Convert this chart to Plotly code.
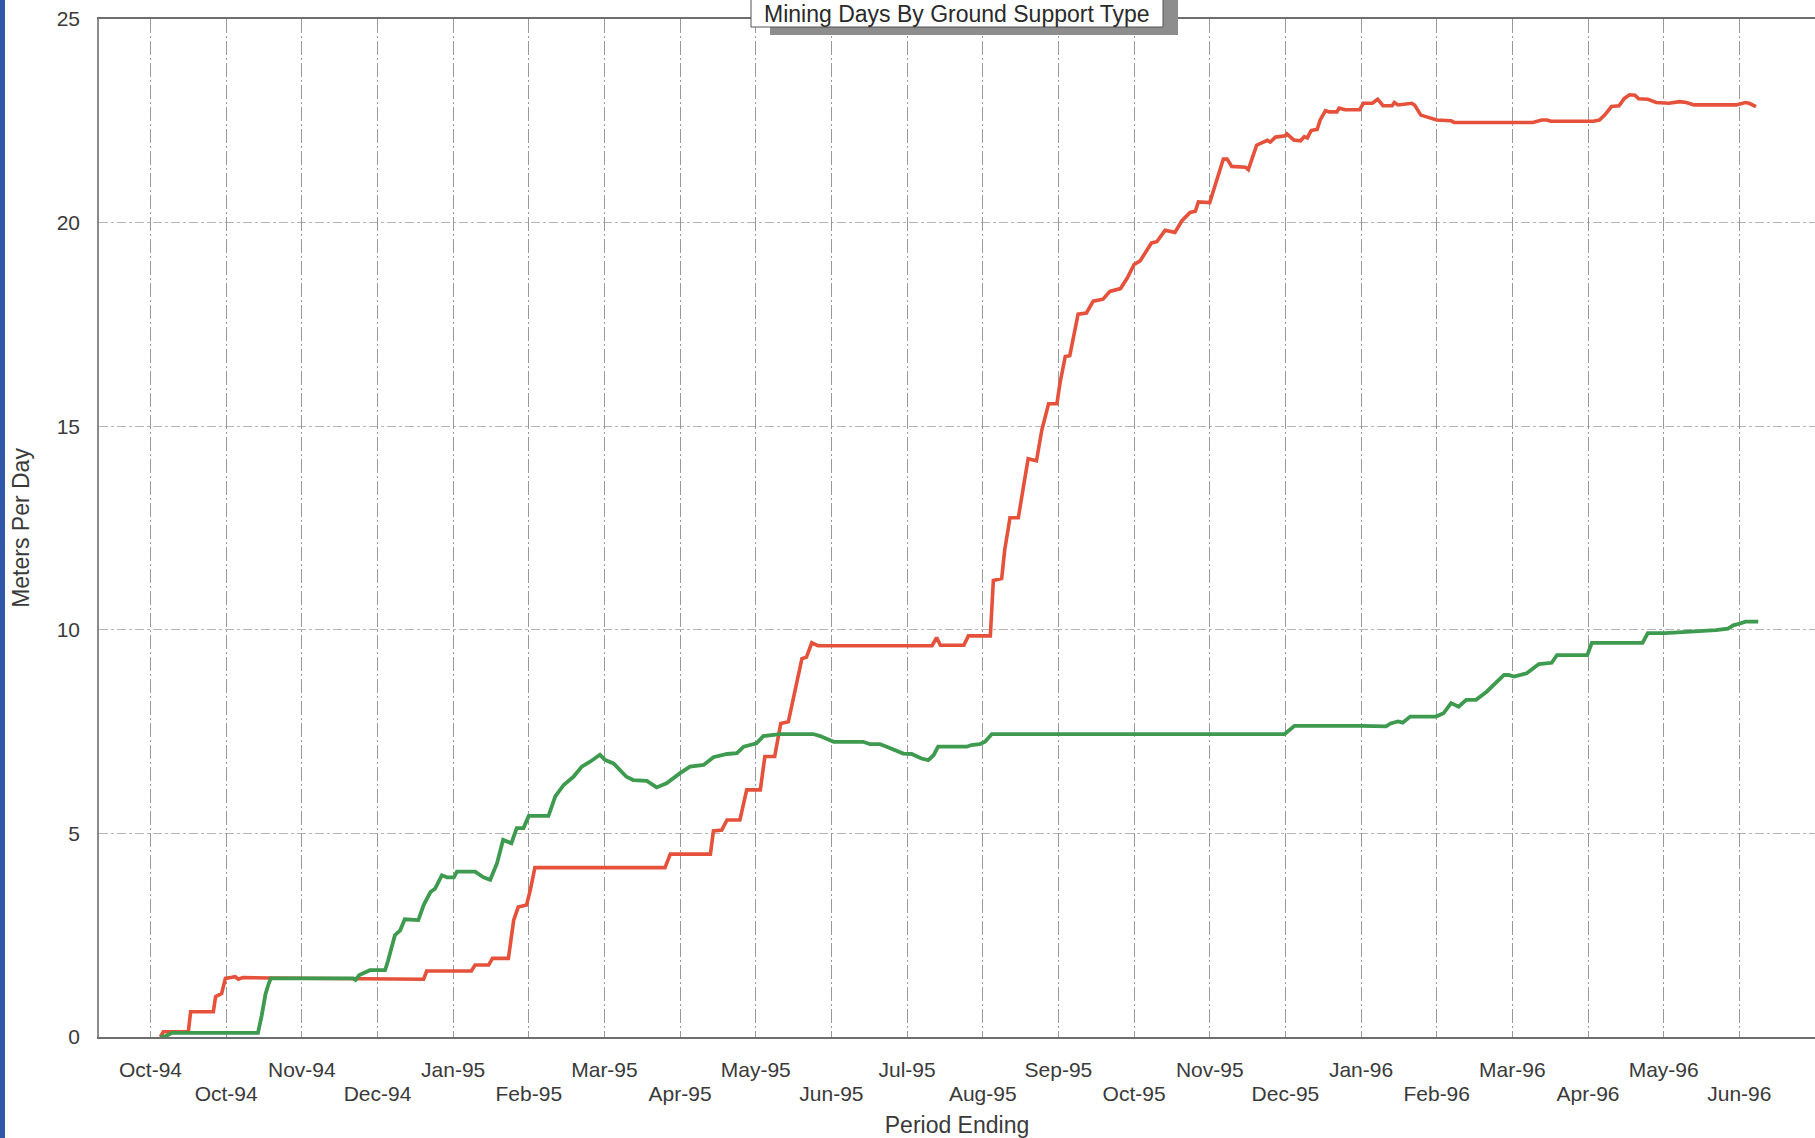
import plotly.graph_objects as go

# ---------------- data ----------------
period_labels = ["Oct-94", "Oct-94", "Nov-94", "Dec-94", "Jan-95", "Feb-95", "Mar-95",
                 "Apr-95", "May-95", "Jun-95", "Jul-95", "Aug-95", "Sep-95", "Oct-95",
                 "Nov-95", "Dec-95", "Jan-96", "Feb-96", "Mar-96", "Apr-96", "May-96",
                 "Jun-96"]

# x expressed in label-period units (0 = first "Oct-94" label), y in metres per day
red_x = [0.13, 0.17, 0.50, 0.53, 0.83, 0.86, 0.94, 0.99, 1.06, 1.12, 1.16, 1.22, 1.56, 2.73,
         3.10, 3.61, 3.65, 4.24, 4.29, 4.47, 4.52, 4.73, 4.80, 4.86, 4.97, 5.02, 5.08, 6.80,
         6.87, 7.40, 7.44, 7.55, 7.62, 7.79, 7.88, 8.06, 8.12, 8.25, 8.33, 8.43, 8.52, 8.61,
         8.67, 8.74, 8.82, 10.33, 10.39, 10.44, 10.75, 10.81, 11.10, 11.14, 11.25, 11.29,
         11.36, 11.47, 11.54, 11.60, 11.71, 11.78, 11.87, 11.98, 12.02, 12.09, 12.15, 12.26,
         12.37, 12.46, 12.59, 12.68, 12.82, 12.91, 13.00, 13.08, 13.23, 13.30, 13.41, 13.54,
         13.63, 13.74, 13.81, 13.85, 14.00, 14.07, 14.18, 14.23, 14.29, 14.47, 14.51, 14.62,
         14.71, 14.76, 14.80, 14.87, 15.00, 15.02, 15.11, 15.20, 15.25, 15.29, 15.34, 15.42,
         15.46, 15.53, 15.58, 15.68, 15.71, 15.79, 15.98, 16.03, 16.15, 16.22, 16.29, 16.41,
         16.44, 16.49, 16.67, 16.71, 16.79, 16.86, 16.93, 17.00, 17.19, 17.23, 18.27, 18.39,
         18.46, 18.51, 19.07, 19.15, 19.22, 19.31, 19.41, 19.48, 19.55, 19.62, 19.67, 19.79,
         19.83, 19.90, 20.07, 20.14, 20.21, 20.30, 20.40, 20.96, 21.08, 21.13, 21.22]
red_y = [0.00, 0.13, 0.13, 0.62, 0.62, 0.99, 1.07, 1.44, 1.46, 1.48, 1.42, 1.46, 1.45, 1.44,
         1.43, 1.42, 1.62, 1.62, 1.77, 1.77, 1.93, 1.93, 2.87, 3.19, 3.24, 3.61, 4.16, 4.16,
         4.49, 4.49, 5.06, 5.08, 5.33, 5.33, 6.07, 6.07, 6.89, 6.89, 7.70, 7.74, 8.52, 9.29,
         9.33, 9.68, 9.61, 9.61, 9.81, 9.62, 9.62, 9.85, 9.85, 11.21, 11.26, 11.96,
         12.75, 12.75, 13.54, 14.20, 14.15, 14.90, 15.55, 15.55, 16.05, 16.71, 16.73, 17.75,
         17.78, 18.07, 18.12, 18.31, 18.38, 18.64, 18.97, 19.06, 19.50, 19.53, 19.81, 19.76,
         20.04, 20.25, 20.28, 20.51, 20.49, 20.89, 21.56, 21.56, 21.38, 21.36, 21.30, 21.90,
         21.97, 22.02, 21.98, 22.10, 22.13, 22.18, 22.03, 22.01, 22.11, 22.08, 22.26, 22.29,
         22.52, 22.75, 22.72, 22.72, 22.81, 22.77, 22.77, 22.93, 22.93, 23.03, 22.87, 22.87,
         22.95, 22.89, 22.93, 22.88, 22.64, 22.60, 22.54, 22.52, 22.50, 22.46, 22.46, 22.52,
         22.52, 22.49, 22.49, 22.52, 22.64, 22.85, 22.87, 23.05, 23.14, 23.13, 23.04, 23.03,
         23.00, 22.95, 22.93, 22.95, 22.97, 22.95, 22.89, 22.89, 22.95, 22.93, 22.85]

green_x = [0.13, 0.20, 0.28, 1.42, 1.47, 1.52, 1.56, 1.59, 2.68, 2.71, 2.76, 2.90, 3.10, 3.14,
           3.23, 3.30, 3.36, 3.54, 3.61, 3.70, 3.76, 3.85, 3.92, 4.01, 4.05, 4.29, 4.40, 4.49,
           4.58, 4.66, 4.77, 4.84, 4.93, 5.00, 5.26, 5.35, 5.46, 5.59, 5.70, 5.81, 5.94, 6.01,
           6.12, 6.29, 6.38, 6.56, 6.69, 6.82, 7.00, 7.13, 7.31, 7.44, 7.62, 7.75, 7.84, 8.01,
           8.10, 8.32, 8.76, 8.85, 9.03, 9.42, 9.51, 9.64, 9.73, 9.78, 9.95, 10.06, 10.19,
           10.28, 10.35, 10.41, 10.79, 10.85, 10.96, 11.03, 11.12, 14.99, 15.12, 16.00, 16.33,
           16.39, 16.49, 16.55, 16.65, 16.99, 17.09, 17.19, 17.29, 17.39, 17.52, 17.66, 17.89,
           17.95, 18.02, 18.19, 18.35, 18.52, 18.59, 18.99, 19.05, 19.72, 19.79, 20.02, 20.42,
           20.69, 20.85, 20.92, 21.02, 21.08, 21.25]
green_y = [0.00, 0.02, 0.10, 0.10, 0.53, 1.06, 1.30, 1.44, 1.44, 1.40, 1.52, 1.64, 1.64, 1.88,
           2.50, 2.62, 2.89, 2.87, 3.24, 3.56, 3.64, 3.97, 3.92, 3.92, 4.06, 4.06, 3.92, 3.86,
           4.27, 4.84, 4.76, 5.13, 5.13, 5.43, 5.43, 5.91, 6.19, 6.39, 6.64, 6.76, 6.93, 6.80,
           6.72, 6.39, 6.31, 6.29, 6.13, 6.23, 6.48, 6.64, 6.68, 6.87, 6.95, 6.97, 7.13, 7.21,
           7.39, 7.44, 7.44, 7.39, 7.25, 7.25, 7.19, 7.19, 7.13, 7.09, 6.96, 6.95, 6.84,
           6.80, 6.92, 7.13, 7.13, 7.17, 7.19, 7.25, 7.44, 7.44, 7.64, 7.64, 7.63,
           7.70, 7.75, 7.72, 7.87, 7.87, 7.95, 8.20, 8.11, 8.28, 8.28, 8.48, 8.89,
           8.89, 8.85, 8.93, 9.16, 9.19, 9.38, 9.38, 9.68, 9.68, 9.92, 9.92, 9.95,
           9.99, 10.03, 10.11, 10.16, 10.20, 10.20]

y_ticks = [0, 5, 10, 15, 20, 25]

# ---------------- figure ----------------
W, H = 1815, 1138
ML, MT, MB = 99, 19, 101
PW, PH = W - ML, H - MT - MB
FONT = "Liberation Sans, Arial, Helvetica, sans-serif"


def px_x(p):  # pixel -> paper (decorations only)
    return (p - ML) / PW


def px_y(p):
    return (H - MB - p) / PH


tick_pos = list(range(len(period_labels)))
odd_pos = [i for i in tick_pos if i % 2 == 1]

fig = go.Figure()
fig.add_trace(go.Scatter(x=red_x, y=red_y, mode="lines", name="Type A",
                         line=dict(color="#e5513b", width=3.6), showlegend=False))
fig.add_trace(go.Scatter(x=green_x, y=green_y, mode="lines", name="Type B",
                         line=dict(color="#3d9a4e", width=3.8), showlegend=False))
# carrier trace for the second (staggered) label row
fig.add_trace(go.Scatter(x=odd_pos, y=[None] * len(odd_pos), xaxis="x2", mode="lines",
                         showlegend=False, hoverinfo="skip"))

xr = [-0.681, 22.0]
fig.update_layout(
    width=W, height=H,
    margin=dict(l=ML, r=0, t=MT, b=MB),
    paper_bgcolor="white", plot_bgcolor="white",
    font=dict(family=FONT, size=21, color="#3a3a3a"),
    showlegend=False,
    xaxis=dict(range=xr, tickmode="array", tickvals=tick_pos,
               ticktext=[period_labels[i] if i % 2 == 0 else "" for i in tick_pos],
               showgrid=True, gridcolor="rgba(110,110,110,0.7)", gridwidth=1,
               griddash="14px,3px,2px,3px",
               showline=True, linecolor="#6e6e6e", linewidth=2, mirror=True,
               ticks="", ticklabelstandoff=13, zeroline=False,
               tickfont=dict(size=21, color="#3a3a3a"),
               title=dict(text="Period Ending", font=dict(size=23, color="#3a3a3a"), standoff=41)),
    xaxis2=dict(range=xr, overlaying="x", anchor="y", side="bottom", tickmode="array",
                tickvals=odd_pos, ticktext=[period_labels[i] for i in odd_pos],
                showgrid=False, showline=False, ticks="", ticklabelstandoff=42,
                zeroline=False, tickfont=dict(size=21, color="#3a3a3a")),
    yaxis=dict(range=[0, 25], tickmode="array", tickvals=y_ticks,
               ticktext=[str(v) for v in y_ticks],
               showgrid=True, gridcolor="rgba(140,140,140,0.65)", gridwidth=1,
               griddash="dashdot", showline=True, linecolor="#8a8a8a", linewidth=1.5,
               ticks="", ticklabelstandoff=13, zeroline=False,
               tickfont=dict(size=21, color="#3a3a3a"),
               title=dict(text="Meters Per Day", font=dict(size=23, color="#3a3a3a"), standoff=21)),
)

# left blue edge of the scanned page
fig.add_shape(type="rect", xref="paper", yref="paper", x0=px_x(-2), x1=px_x(5),
              y0=px_y(H + 5), y1=px_y(-5), fillcolor="#2f56a8", line=dict(width=0), layer="above")

# title box with drop shadow
fig.add_shape(type="rect", xref="paper", yref="paper", x0=px_x(770), x1=px_x(1178),
              y0=px_y(35), y1=px_y(-5), fillcolor="#8d8d8d", line=dict(width=0), layer="above")
fig.add_shape(type="rect", xref="paper", yref="paper", x0=px_x(751), x1=px_x(1163),
              y0=px_y(27), y1=px_y(-5), fillcolor="white",
              line=dict(color="#555555", width=1), layer="above")
fig.add_annotation(text="Mining Days By Ground Support Type", xref="paper", yref="paper",
                   x=px_x(957), y=px_y(0), xanchor="center", yanchor="top", borderpad=0,
                   showarrow=False, font=dict(family=FONT, size=23, color="#2a2a2a"))

fig.write_html("out.html", config={"displayModeBar": False},
               post_script="document.body.style.margin='0px';")
